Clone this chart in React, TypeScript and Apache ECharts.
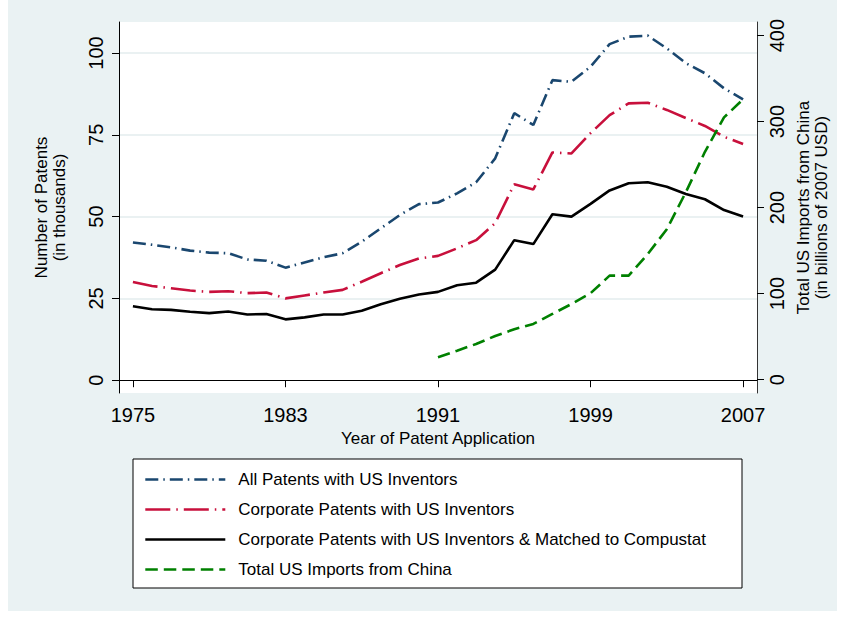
import React, { useEffect, useRef } from 'react';
import * as echarts from 'echarts';

const years = [
  1975, 1976, 1977, 1978, 1979, 1980, 1981, 1982, 1983, 1984, 1985,
  1986, 1987, 1988, 1989, 1990, 1991, 1992, 1993, 1994, 1995, 1996,
  1997, 1998, 1999, 2000, 2001, 2002, 2003, 2004, 2005, 2006, 2007,
];

const allPatents = [
  42.1, 41.4, 40.6, 39.6, 39.0, 38.8, 36.9, 36.5, 34.4, 36.0, 37.6,
  38.8, 42.3, 46.4, 50.5, 53.8, 54.3, 57.1, 60.5, 67.8, 81.6, 78.0,
  91.7, 91.2, 95.8, 102.7, 105.0, 105.3, 101.4, 96.9, 93.8, 89.2, 85.8,
];

const corporatePatents = [
  30.0, 28.8, 28.1, 27.4, 27.0, 27.2, 26.6, 26.8, 25.0, 25.9, 26.8,
  27.6, 30.1, 32.7, 35.2, 37.2, 38.0, 40.3, 42.8, 48.0, 59.9, 58.3,
  69.6, 69.3, 75.5, 81.0, 84.6, 84.8, 82.6, 80.1, 77.7, 74.4, 72.2,
];

const compustatPatents = [
  22.6, 21.7, 21.5, 20.9, 20.5, 21.0, 20.1, 20.2, 18.6, 19.2, 20.1,
  20.1, 21.2, 23.2, 24.9, 26.2, 27.0, 29.0, 29.8, 33.8, 42.8, 41.6,
  50.7, 50.0, 53.9, 58.0, 60.2, 60.5, 59.1, 56.9, 55.3, 52.0, 50.0,
];

const importYears = [
  1991, 1992, 1993, 1994, 1995, 1996, 1997, 1998, 1999, 2000, 2001,
  2002, 2003, 2004, 2005, 2006, 2007,
];

const importsFromChina = [
  26.0, 33.7, 41.5, 50.8, 58.6, 64.8, 76.4, 88.0, 100.5, 121, 121,
  146, 175, 218, 265, 305, 326,
];

const xTicks = [1975, 1983, 1991, 1999, 2007];
const leftTicks = [0, 25, 50, 75, 100];
const rightTicks = [0, 100, 200, 300, 400];

const seriesNames = [
  'All Patents with US Inventors',
  'Corporate Patents with US Inventors',
  'Corporate Patents with US Inventors & Matched to Compustat',
  'Total US Imports from China',
];

const FONT = 'Liberation Sans, Arial, Helvetica, sans-serif';
const BG = '#eaf2f3';

const pairs = (xs: number[], ys: number[]) => xs.map((x, i) => [x, ys[i]]);

export default function App() {
  const ref = useRef<HTMLDivElement>(null);

  useEffect(() => {
    if (!ref.current) return;
    const chart = echarts.init(ref.current, null, { renderer: 'svg' });

    const yAxisCommon = {
      type: 'value' as const,
      nameLocation: 'middle' as const,
      nameRotate: 90,
      nameTextStyle: { fontSize: 17, lineHeight: 18, color: '#000', fontFamily: FONT },
      axisLine: { show: true, lineStyle: { color: '#000', width: 1 } },
      axisTick: { show: true, length: 7, lineStyle: { color: '#000', width: 1 } },
    };

    const lineSeries = (
      name: string,
      data: number[][],
      yAxisIndex: number,
      color: string,
      type: any,
    ) => ({
      name,
      type: 'line',
      yAxisIndex,
      data,
      symbol: 'none',
      showSymbol: false,
      lineStyle: { color, width: 2.6, type, cap: 'butt' },
      itemStyle: { color },
      z: 3,
    });

    const option: any = {
      animation: false,
      backgroundColor: '#ffffff',
      textStyle: { fontFamily: FONT },
      graphic: [
        {
          type: 'rect',
          z: -100,
          silent: true,
          shape: { x: 8, y: 0, width: 829, height: 611 },
          style: { fill: BG },
        },
        {
          type: 'rect',
          z: 1,
          silent: true,
          shape: { x: 133, y: 459, width: 609, height: 129 },
          style: { fill: '#ffffff', stroke: '#000', lineWidth: 1 },
        },
      ],
      grid: {
        left: 119,
        right: 88,
        top: 22,
        bottom: 225,
        show: true,
        backgroundColor: '#ffffff',
        borderWidth: 0,
        containLabel: false,
      },
      legend: {
        orient: 'vertical',
        left: 144,
        top: 471,
        padding: 0,
        itemWidth: 80,
        itemHeight: 14,
        itemGap: 13,
        z: 10,
        selectedMode: false,
        textStyle: {
          fontSize: 17,
          lineHeight: 17,
          color: '#000',
          fontFamily: FONT,
          padding: [0, 0, 0, 8],
        },
        itemStyle: {
          color: 'rgba(0,0,0,0)',
          borderColor: 'rgba(0,0,0,0)',
          borderWidth: 0,
        },
        lineStyle: { width: 2.6 },
        data: seriesNames,
      },
      xAxis: {
        type: 'value',
        min: 1974.27,
        max: 2007.73,
        name: 'Year of Patent Application',
        nameLocation: 'middle',
        nameGap: 35,
        nameTextStyle: { fontSize: 17, color: '#000', fontFamily: FONT },
        axisLine: { show: true, lineStyle: { color: '#000', width: 1 } },
        axisTick: { show: true, length: 7, customValues: xTicks, lineStyle: { color: '#000' } },
        axisLabel: {
          customValues: xTicks,
          formatter: (v: number) => String(v),
          fontSize: 20,
          color: '#000',
          margin: 12,
          fontFamily: FONT,
        },
        splitLine: { show: false },
      },
      yAxis: [
        {
          ...yAxisCommon,
          position: 'left',
          min: -3.91,
          max: 109.47,
          name: 'Number of Patents\n(in thousands)',
          nameGap: 51,
          axisTick: { ...yAxisCommon.axisTick, customValues: leftTicks },
          axisLabel: {
            customValues: leftTicks,
            formatter: (v: number) => String(v),
            rotate: 90,
            fontSize: 20,
            color: '#000',
            margin: 13,
            fontFamily: FONT,
          },
          splitLine: {
            show: true,
            lineStyle: {
              color: ['rgba(0,0,0,0)', '#e3ecee', '#e3ecee', '#e3ecee', '#e3ecee'],
              width: 1.5,
            },
          },
        },
        {
          ...yAxisCommon,
          position: 'right',
          min: -15.5,
          max: 415.9,
          name: 'Total US Imports from China\n(in billions of 2007 USD)',
          nameGap: 31,
          axisLine: { show: true, lineStyle: { color: '#333', width: 1 } },
          axisTick: { ...yAxisCommon.axisTick, customValues: rightTicks },
          axisLabel: {
            customValues: rightTicks,
            formatter: (v: number) => String(v),
            rotate: 90,
            fontSize: 20,
            color: '#000',
            margin: 10,
            fontFamily: FONT,
          },
          splitLine: { show: false },
        },
      ],
      series: [
        lineSeries(seriesNames[0], pairs(years, allPatents), 0, '#1a476f', [13, 5, 1.5, 5]),
        lineSeries(seriesNames[1], pairs(years, corporatePatents), 0, '#c8103c', [25, 6, 1.5, 6]),
        lineSeries(seriesNames[2], pairs(years, compustatPatents), 0, '#000000', 'solid'),
        lineSeries(seriesNames[3], pairs(importYears, importsFromChina), 1, '#008000', [12.5, 6]),
      ],
    };

    chart.setOption(option);
    return () => chart.dispose();
  }, []);

  return (
    <div
      ref={ref}
      style={{ position: 'absolute', left: 0, top: 0, width: 845, height: 618 }}
    />
  );
}
